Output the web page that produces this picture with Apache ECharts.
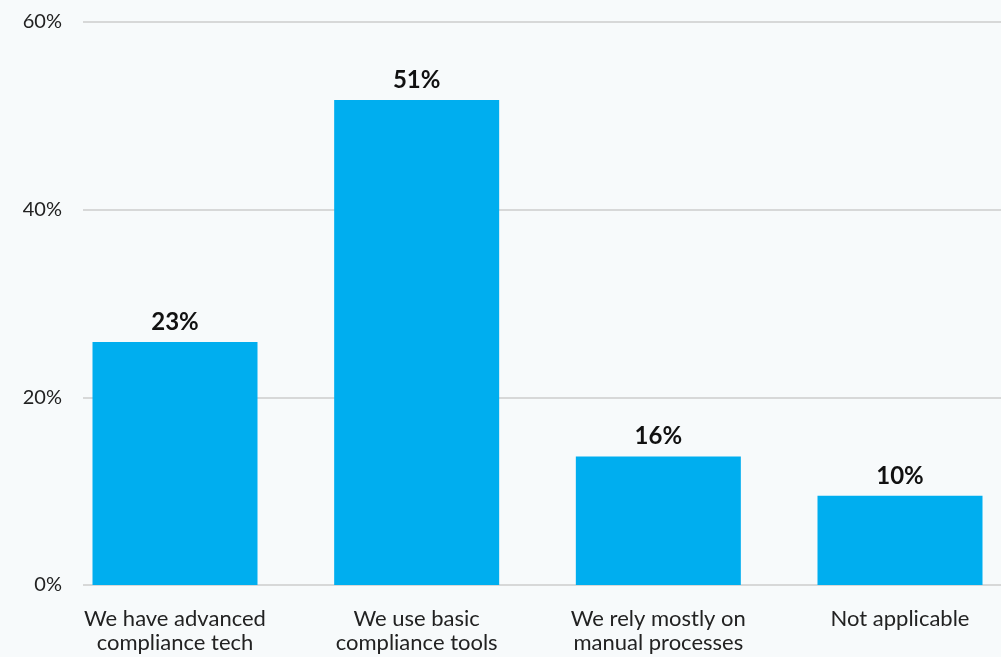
<!DOCTYPE html>
<html>
<head>
<meta charset="utf-8">
<script src="https://cdn.jsdelivr.net/npm/echarts@6/dist/echarts.min.js"></script>
<style>
  html, body { margin: 0; padding: 0; background: #f7fafb; }
  #chart { width: 1001px; height: 657px; }
</style>
</head>
<body>
<div id="chart"></div>
<script>
// categories on the x axis
var categories = [
  'We have advanced\ncompliance tech',
  'We use basic\ncompliance tools',
  'We rely mostly on\nmanual processes',
  'Not applicable'
];
// bar heights as drawn
var barValues = [25.9, 51.7, 13.7, 9.5];
// labels printed above the bars
var barLabels = ['23%', '51%', '16%', '10%'];
// y axis range
var yMin = 0, yMax = 60, yStep = 20;

var chart = echarts.init(document.getElementById('chart'));
var fontFamily = 'Lato, "Noto Sans", sans-serif';

chart.setOption({
  backgroundColor: '#f7fafb',
  animation: false,
  textStyle: { fontFamily: fontFamily },
  grid: [
    // grid for the value axis and gridlines
    { left: 83, right: 0, top: 22, bottom: 72 },
    // grid for the bars: first and last bar centres sit on the grid edges
    { left: 175, right: 101, top: 22, bottom: 72 }
  ],
  xAxis: [
    { gridIndex: 0, type: 'category', data: categories, show: false },
    {
      gridIndex: 1,
      type: 'category',
      boundaryGap: false,
      data: categories,
      axisLine: { show: false },
      axisTick: { show: false },
      axisLabel: {
        interval: 0,
        margin: 22,
        color: '#222',
        fontSize: 22,
        lineHeight: 24,
        fontFamily: fontFamily
      }
    }
  ],
  yAxis: [
    {
      gridIndex: 0,
      type: 'value',
      min: yMin,
      max: yMax,
      interval: yStep,
      axisLine: { show: false },
      axisTick: { show: false },
      axisLabel: {
        formatter: '{value}%',
        margin: 21,
        color: '#222',
        fontSize: 20,
        fontFamily: fontFamily
      },
      splitLine: { lineStyle: { color: '#cccccc', width: 1.5 } }
    },
    {
      gridIndex: 1,
      type: 'value',
      min: yMin,
      max: yMax,
      show: false
    }
  ],
  series: [
    {
      type: 'bar',
      xAxisIndex: 1,
      yAxisIndex: 1,
      data: barValues,
      barWidth: 165,
      itemStyle: { color: '#00aeef' },
      label: {
        show: true,
        position: 'top',
        distance: 8,
        color: '#111',
        fontSize: 24,
        fontWeight: 'bold',
        fontFamily: fontFamily,
        formatter: function (p) { return barLabels[p.dataIndex]; }
      }
    }
  ]
});
</script>
</body>
</html>
